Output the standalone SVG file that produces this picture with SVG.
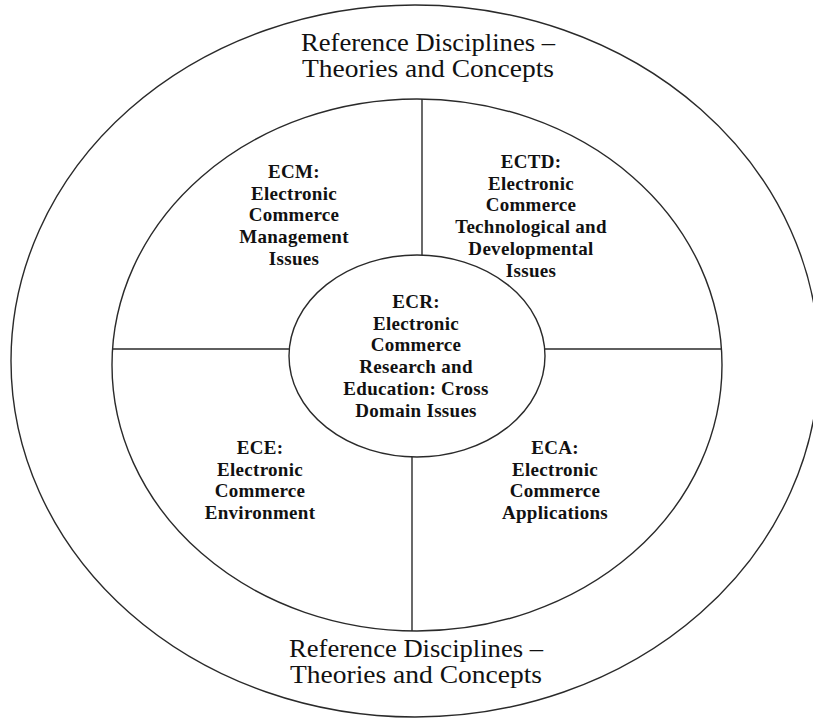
<svg xmlns="http://www.w3.org/2000/svg" width="813" height="719" viewBox="0 0 813 719">
<style>
.ring{fill:none;stroke:#2a2a2a;stroke-width:1.4}
.conn{stroke:#2a2a2a;stroke-width:1.4;fill:none}
.title{font-family:"Liberation Serif","Times New Roman",serif;font-size:25px;fill:#111;text-anchor:middle}
.lbl{font-family:"Liberation Serif","Times New Roman",serif;font-size:19px;font-weight:bold;fill:#111;text-anchor:middle;letter-spacing:0.3px}
</style>
<rect width="813" height="719" fill="#fff"/>
<g id="outer">
<ellipse class="ring" cx="415" cy="361" rx="404" ry="356"/>
<text class="title" x="428" y="51" textLength="254" lengthAdjust="spacingAndGlyphs">Reference Disciplines –</text>
<text class="title" x="428" y="77" textLength="252" lengthAdjust="spacingAndGlyphs">Theories and Concepts</text>
<text class="title" x="416" y="657" textLength="254" lengthAdjust="spacingAndGlyphs">Reference Disciplines –</text>
<text class="title" x="416" y="683" textLength="252" lengthAdjust="spacingAndGlyphs">Theories and Concepts</text>
</g>
<g id="middle">
<ellipse class="ring" cx="417" cy="365" rx="305" ry="266"/>
</g>
<g id="connectors">
<line class="conn" x1="112" y1="349" x2="289" y2="349"/>
<line class="conn" x1="545" y1="349" x2="722" y2="349"/>
<line class="conn" x1="422" y1="99" x2="422" y2="255"/>
<line class="conn" x1="412" y1="457" x2="412" y2="631"/>
</g>
<g id="ECR">
<ellipse class="ring" cx="417" cy="356" rx="128" ry="101"/>
<text class="lbl" x="416"><tspan x="416" y="308">ECR:</tspan><tspan x="416" y="329.7">Electronic</tspan><tspan x="416" y="351.4">Commerce</tspan><tspan x="416" y="373.1">Research and</tspan><tspan x="416" y="394.8">Education: Cross</tspan><tspan x="416" y="416.5">Domain Issues</tspan></text>
</g>
<g id="ECM">
<text class="lbl"><tspan x="294" y="178">ECM:</tspan><tspan x="294" y="199.7">Electronic</tspan><tspan x="294" y="221.4">Commerce</tspan><tspan x="294" y="243.1">Management</tspan><tspan x="294" y="264.8">Issues</tspan></text>
</g>
<g id="ECTD">
<text class="lbl"><tspan x="531" y="168">ECTD:</tspan><tspan x="531" y="189.7">Electronic</tspan><tspan x="531" y="211.4">Commerce</tspan><tspan x="531" y="233.1">Technological and</tspan><tspan x="531" y="254.8">Developmental</tspan><tspan x="531" y="276.5">Issues</tspan></text>
</g>
<g id="ECE">
<text class="lbl"><tspan x="260" y="454">ECE:</tspan><tspan x="260" y="475.7">Electronic</tspan><tspan x="260" y="497.4">Commerce</tspan><tspan x="260" y="519.1">Environment</tspan></text>
</g>
<g id="ECA">
<text class="lbl"><tspan x="555" y="454">ECA:</tspan><tspan x="555" y="475.7">Electronic</tspan><tspan x="555" y="497.4">Commerce</tspan><tspan x="555" y="519.1">Applications</tspan></text>
</g>
</svg>
